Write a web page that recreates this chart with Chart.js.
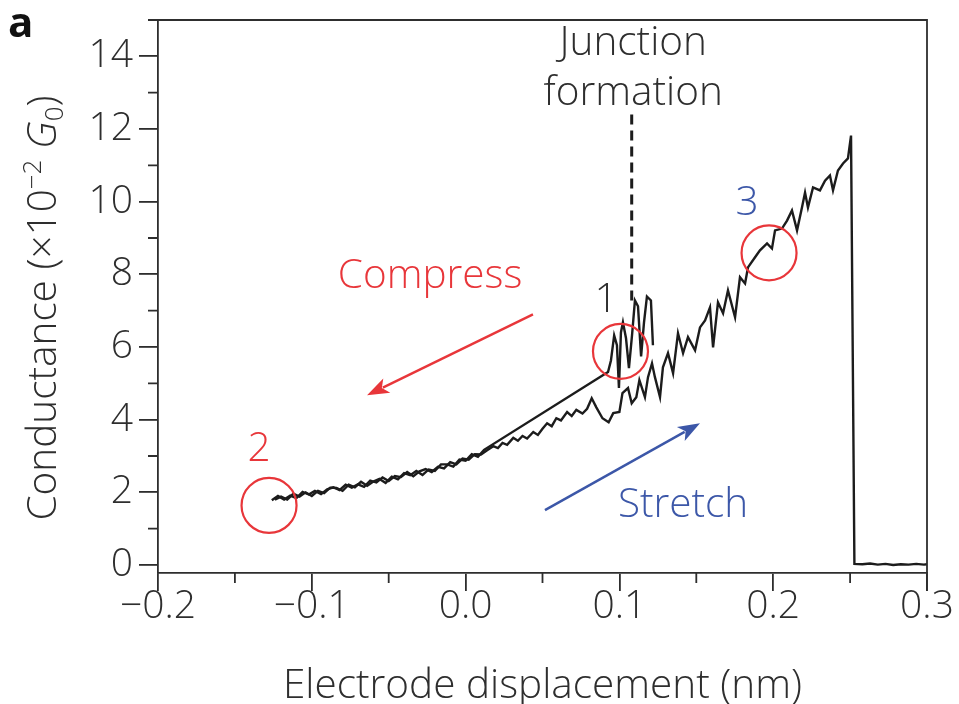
<!DOCTYPE html>
<html>
<head>
<meta charset="utf-8">
<script src="https://cdn.jsdelivr.net/npm/chart.js@4.4.1/dist/chart.umd.min.js"></script>
<style>
  html, body { margin: 0; padding: 0; background: #fff; }
  canvas { display: block; }
</style>
</head>
<body>
<canvas id="chart" width="959" height="704"></canvas>
<script>
// Compression leg: junction formation around 0.11 nm, then the electrodes are pushed back to -0.125 nm
const compressX = [
  0.1218, 0.1205, 0.1179, 0.1160, 0.1141, 0.1121, 0.1101, 0.1082, 0.1062, 0.1043,
  0.1023, 0.1010, 0.0997, 0.0984, 0.0966, 0.0945, 0.0926,
  0.012, 0.008, 0.004, 0.000, -0.004, -0.008, -0.012, -0.016, -0.020, -0.024,
  -0.028, -0.032, -0.036, -0.040, -0.044, -0.048, -0.052, -0.056, -0.060, -0.064,
  -0.068, -0.072, -0.076, -0.080, -0.084, -0.088, -0.092, -0.096, -0.100, -0.104,
  -0.108, -0.112, -0.116, -0.120, -0.124
];
const compressY = [
  6.05, 7.28, 7.39, 6.68, 5.74, 7.12, 7.28, 6.32, 5.42, 6.24,
  6.68, 6.40, 4.87, 6.05, 6.32, 5.63, 5.31,
  3.17, 2.98, 3.05, 2.87, 2.90, 2.71, 2.77, 2.77, 2.59, 2.63,
  2.48, 2.59, 2.47, 2.53, 2.36, 2.43, 2.26, 2.37, 2.30, 2.18,
  2.29, 2.14, 2.21, 2.04, 2.12, 2.13, 1.98, 2.04, 1.90, 2.00,
  1.88, 1.96, 1.80, 1.88, 1.80
];

// Stretch leg: pulled apart from -0.126 nm until the junction breaks near 0.253 nm
const stretchX = [
  -0.126, -0.122, -0.118, -0.114, -0.110, -0.106, -0.102, -0.098, -0.094, -0.090,
  -0.086, -0.082, -0.078, -0.074, -0.070, -0.066, -0.062, -0.058, -0.054, -0.050,
  -0.046, -0.042, -0.038, -0.034, -0.030, -0.026, -0.022, -0.018, -0.014, -0.010,
  -0.006, -0.002, 0.002, 0.006, 0.010,
  0.014, 0.018, 0.021, 0.024, 0.027, 0.031, 0.034, 0.037, 0.040, 0.044,
  0.047, 0.050, 0.053, 0.056, 0.059, 0.062, 0.066, 0.069, 0.072, 0.076,
  0.079, 0.082, 0.085, 0.089, 0.093, 0.096, 0.100, 0.102, 0.1056, 0.108,
  0.111, 0.113, 0.1166, 0.1186, 0.1212, 0.1231, 0.1264, 0.1283, 0.1316, 0.1349,
  0.1381, 0.1414, 0.1446, 0.1492, 0.1524, 0.1557, 0.1589, 0.1609, 0.1641, 0.1674,
  0.1706, 0.1752, 0.1784, 0.1817, 0.1836, 0.1882, 0.1914, 0.1960, 0.1992, 0.2012,
  0.2057, 0.2090, 0.2122, 0.2155, 0.2187, 0.2207, 0.2226, 0.2259, 0.2304, 0.2337,
  0.2369, 0.2389, 0.2421, 0.2454, 0.2486, 0.2506,
  0.2528, 0.258, 0.263, 0.268, 0.273, 0.278, 0.283, 0.288, 0.293, 0.298, 0.300
];
const stretchY = [
  1.78, 1.90, 1.80, 1.91, 1.84, 2.01, 1.94, 2.04, 1.95, 2.08,
  2.14, 2.06, 2.21, 2.13, 2.22, 2.15, 2.32, 2.27, 2.41, 2.31,
  2.45, 2.42, 2.56, 2.44, 2.58, 2.64, 2.56, 2.70, 2.66, 2.83,
  2.77, 2.93, 2.90, 3.05, 3.04,
  3.16, 3.27, 3.22, 3.36, 3.31, 3.50, 3.42, 3.55, 3.48, 3.66,
  3.58, 3.75, 3.90, 3.82, 4.04, 3.98, 4.21, 4.10, 4.27, 4.17,
  4.30, 4.59, 4.34, 4.04, 3.93, 4.18, 4.21, 4.73, 4.87, 4.45,
  4.62, 5.09, 4.62, 5.17, 5.55, 5.17, 4.62, 5.44, 5.83, 5.28,
  6.38, 5.83, 6.27, 5.91, 6.54, 6.73, 7.09, 5.99, 7.23, 6.93,
  7.56, 6.82, 7.92, 7.75, 8.19, 8.47, 8.66, 8.85, 8.71, 9.21,
  9.26, 9.48, 9.76, 9.21, 9.84, 10.25, 9.84, 10.39, 10.31, 10.58,
  10.72, 10.31, 10.86, 11.05, 11.19, 11.82,
  0.03, 0.02, 0.04, 0.01, 0.03, 0.00, 0.02, 0.01, 0.03, 0.01, 0.02
];

// Axis ticks and their labels
const xTicks = [-0.2, -0.1, 0.0, 0.1, 0.2, 0.3];
const xTickLabels = ['\u22120.2', '\u22120.1', '0.0', '0.1', '0.2', '0.3'];
const xMinorTicks = [-0.15, -0.05, 0.05, 0.15, 0.25];
const yTicks = [0, 2, 4, 6, 8, 10, 12, 14];
const yTickLabels = ['0', '2', '4', '6', '8', '10', '12', '14'];
const yMinorTicks = [1, 3, 5, 7, 9, 11, 13, 15];

const FONT = '"Open Sans", "Liberation Sans", sans-serif';
const INK = '#2e2e2e';
const TRACE = '#1c1c1c';
const RED = '#e8363a';
const BLUE = '#3c57a8';

function toPoints(xs, ys) {
  return xs.map((v, i) => ({ x: v, y: ys[i] }));
}

// Arrowed line between two pixel positions
function arrow(ctx, x0, y0, x1, y1, color) {
  const ang = Math.atan2(y1 - y0, x1 - x0);
  const head = 22, half = 8;
  ctx.strokeStyle = color;
  ctx.fillStyle = color;
  ctx.lineWidth = 2.4;
  ctx.beginPath();
  ctx.moveTo(x0, y0);
  ctx.lineTo(x1 - Math.cos(ang) * head * 0.8, y1 - Math.sin(ang) * head * 0.8);
  ctx.stroke();
  ctx.beginPath();
  ctx.moveTo(x1, y1);
  ctx.lineTo(x1 - Math.cos(ang) * head - Math.sin(ang) * half, y1 - Math.sin(ang) * head + Math.cos(ang) * half);
  ctx.lineTo(x1 - Math.cos(ang) * head * 0.75, y1 - Math.sin(ang) * head * 0.75);
  ctx.lineTo(x1 - Math.cos(ang) * head + Math.sin(ang) * half, y1 - Math.sin(ang) * head - Math.cos(ang) * half);
  ctx.closePath();
  ctx.fill();
}

// Box frame, minor ticks, axis titles and annotations
const decorations = {
  id: 'decorations',
  afterDraw(chart) {
    const { ctx, chartArea: a, scales: { x, y } } = chart;
    const px = v => x.getPixelForValue(v);
    const py = v => y.getPixelForValue(v);
    ctx.save();

    // top and right sides of the frame
    ctx.strokeStyle = INK;
    ctx.lineWidth = 1.8;
    ctx.beginPath();
    ctx.moveTo(a.left, a.top);
    ctx.lineTo(a.right, a.top);
    ctx.lineTo(a.right, a.bottom + 18);
    ctx.stroke();

    // minor ticks
    ctx.beginPath();
    yMinorTicks.forEach(v => { ctx.moveTo(a.left - 10, py(v)); ctx.lineTo(a.left, py(v)); });
    xMinorTicks.forEach(v => { ctx.moveTo(px(v), a.bottom); ctx.lineTo(px(v), a.bottom + 10); });
    ctx.stroke();

    // x axis title
    ctx.fillStyle = INK;
    ctx.font = `300 40.5px ${FONT}`;
    ctx.textAlign = 'center';
    ctx.textBaseline = 'alphabetic';
    ctx.fillText('Electrode displacement (nm)', (a.left + a.right) / 2, 698);

    // y axis title with superscript and subscript
    const big = 40.5, small = 26;
    const parts = [
      { t: 'Conductance (\u00d710', f: `300 ${big}px ${FONT}`, dy: 0 },
      { t: '\u22122', f: `300 ${small}px ${FONT}`, dy: -15 },
      { t: ' ', f: `300 ${big}px ${FONT}`, dy: 0 },
      { t: 'G', f: `italic 300 ${big}px ${FONT}`, dy: 0 },
      { t: '0', f: `300 ${small}px ${FONT}`, dy: 7 },
      { t: ')', f: `300 ${big}px ${FONT}`, dy: 0 }
    ];
    let total = 0;
    parts.forEach(p => { ctx.font = p.f; p.w = ctx.measureText(p.t).width; total += p.w; });
    ctx.save();
    ctx.translate(56, 308);
    ctx.rotate(-Math.PI / 2);
    ctx.textAlign = 'left';
    let cx = -total / 2;
    parts.forEach(p => { ctx.font = p.f; ctx.fillText(p.t, cx, p.dy); cx += p.w; });
    ctx.restore();

    // panel letter
    ctx.font = `bold 42px ${FONT}`;
    ctx.textAlign = 'left';
    ctx.fillStyle = '#111';
    ctx.fillText('a', 8, 37);

    // junction formation marker
    ctx.strokeStyle = TRACE;
    ctx.lineWidth = 3;
    ctx.setLineDash([10, 6]);
    ctx.beginPath();
    ctx.moveTo(px(0.108), py(12.4));
    ctx.lineTo(px(0.108), py(7.2));
    ctx.stroke();
    ctx.setLineDash([]);

    ctx.font = `300 40.5px ${FONT}`;
    ctx.textAlign = 'center';
    ctx.textBaseline = 'middle';
    ctx.fillStyle = INK;
    ctx.fillText('Junction', px(0.109), py(14.35));
    ctx.fillText('formation', px(0.109), py(12.97));
    ctx.fillText('1', px(0.0913), py(7.28));
    ctx.fillStyle = RED;
    ctx.fillText('2', px(-0.1343), py(3.19));
    ctx.fillText('Compress', px(-0.0231), py(7.94));
    ctx.fillStyle = BLUE;
    ctx.fillText('3', px(0.183), py(9.95));
    ctx.fillText('Stretch', px(0.1414), py(1.65));

    // highlighted states
    ctx.strokeStyle = RED;
    ctx.lineWidth = 2.2;
    [[0.1007, 5.88], [-0.1278, 1.64], [0.1973, 8.59]].forEach(([cxv, cyv]) => {
      ctx.beginPath();
      ctx.arc(px(cxv), py(cyv), 27.5, 0, Math.PI * 2);
      ctx.stroke();
    });

    arrow(ctx, px(0.0438), py(6.90), px(-0.0641), py(4.67), RED);
    arrow(ctx, px(0.0516), py(1.51), px(0.1524), py(3.90), BLUE);

    ctx.restore();
  }
};

const tickFont = { family: FONT, size: 39, weight: 300 };

new Chart(document.getElementById('chart'), {
  type: 'scatter',
  data: {
    datasets: [
      { label: 'Compress', data: toPoints(compressX, compressY) },
      { label: 'Stretch', data: toPoints(stretchX, stretchY) }
    ]
  },
  options: {
    responsive: false,
    animation: false,
    devicePixelRatio: 1,
    showLine: true,
    elements: {
      point: { radius: 0, hoverRadius: 0 },
      line: { borderColor: TRACE, borderWidth: 2.4, tension: 0, fill: false }
    },
    layout: { padding: { left: 0, top: 20, right: 32, bottom: 0 } },
    plugins: { legend: { display: false }, tooltip: { enabled: false } },
    scales: {
      x: {
        type: 'linear',
        min: -0.2,
        max: 0.3,
        afterBuildTicks: s => { s.ticks = xTicks.map(v => ({ value: v })); },
        afterFit: s => { s.height = 131; s.paddingLeft = 0; s.paddingRight = 0; },
        grid: { drawOnChartArea: false, drawTicks: true, tickLength: 18, color: INK, lineWidth: 1.8 },
        border: { display: true, color: INK, width: 1.8 },
        ticks: {
          color: INK,
          font: tickFont,
          padding: -8,
          maxRotation: 0,
          callback: (v, i) => xTickLabels[i]
        }
      },
      y: {
        type: 'linear',
        min: -0.22,
        max: 15,
        afterBuildTicks: s => { s.ticks = yTicks.map(v => ({ value: v })); },
        afterFit: s => { s.width = 158; s.paddingTop = 0; s.paddingBottom = 0; },
        grid: { drawOnChartArea: false, drawTicks: true, tickLength: 19, color: INK, lineWidth: 1.8 },
        border: { display: true, color: INK, width: 1.8 },
        ticks: {
          color: INK,
          font: tickFont,
          padding: 6,
          callback: (v, i) => yTickLabels[i]
        }
      }
    }
  },
  plugins: [decorations]
});
</script>
</body>
</html>
